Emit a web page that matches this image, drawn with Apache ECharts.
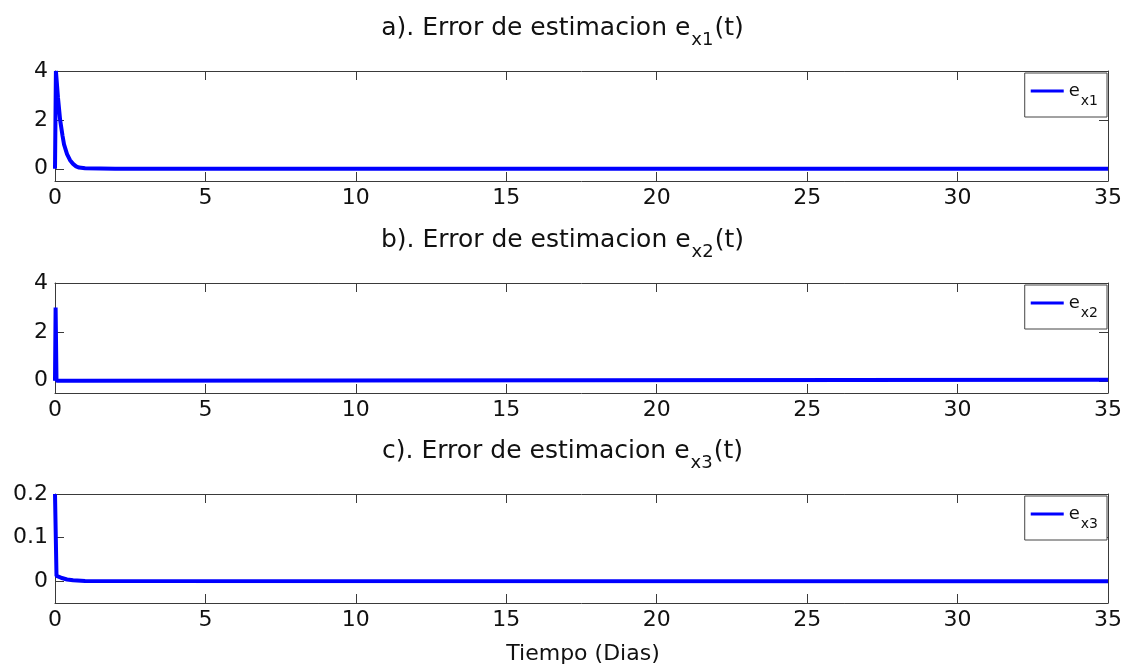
<!DOCTYPE html>
<html lang="es">
<head>
    <meta charset="UTF-8">
    <title>Error de estimacion</title>
</head>
<body style="margin:0;background:#fff;">
<div id="main" style="width:1125px;height:669px;"></div>

<script src="https://cdn.jsdelivr.net/npm/echarts@6/dist/echarts.min.js"></script>
<script>
    // datos
    var t1  = [0, 0.03, 0.1, 0.17, 0.25, 0.3, 0.4, 0.5, 0.6, 0.7, 0.8, 1.0, 2.0, 35];
    var ex1 = [0, 4.0, 2.9, 2.0, 1.35, 1.0, 0.6, 0.35, 0.2, 0.1, 0.05, 0.02, 0, 0];

    var t2  = [0, 0.02, 0.05, 0.9, 0.92, 35];
    var ex2 = [0, 3.0, 0, 0, 0.04, 0.04];

    var t3  = [0, 0.03, 0.05, 0.2, 0.4, 0.6, 1.0, 35];
    var ex3 = [0.2, 0.2, 0.012, 0.008, 0.004, 0.002, 0.0005, 0];

    var xTicks = [0, 5, 10, 15, 20, 25, 30, 35];
    var yTicks12 = [0, 2, 4];
    var yTicks3 = [0, 0.1, 0.2];

    var titulos = [
        ['a). Error de estimacion e', 'x1', '(t)'],
        ['b). Error de estimacion e', 'x2', '(t)'],
        ['c). Error de estimacion e', 'x3', '(t)']
    ];
    var nombres = ['e_x1', 'e_x2', 'e_x3'];
    var subs = ['x1', 'x2', 'x3'];

    function pares(xs, ys) {
        var out = [];
        for (var i = 0; i < xs.length; i++) out.push([xs[i], ys[i]]);
        return out;
    }

    var fuente = '"DejaVu Sans", "Liberation Sans", sans-serif';
    var eje = '#3a3a3a';
    var grids = [
        {left: 55, right: 15, top: 71, height: 110},
        {left: 55, right: 15, top: 283, height: 110},
        {left: 55, right: 15, top: 494, height: 109}
    ];
    var yRange = [[-0.5, 4], [-0.5, 4], [-0.05, 0.2]];
    var yTicks = [yTicks12, yTicks12, yTicks3];

    var xAxes = [], yAxes = [], titles = [], legends = [], series = [];
    var datos = [pares(t1, ex1), pares(t2, ex2), pares(t3, ex3)];

    for (var g = 0; g < 3; g++) {
        // eje inferior con etiquetas
        xAxes.push({
            type: 'value', gridIndex: g, min: 0, max: 35, interval: 5,
            position: 'bottom',
            axisLine: {onZero: false, lineStyle: {color: eje, width: 1}},
            axisTick: {inside: true, length: 9, lineStyle: {color: eje}},
            axisLabel: {color: '#111', fontSize: 22, fontFamily: fuente, margin: 6,
                customValues: xTicks},
            splitLine: {show: false}
        });
        // eje superior (solo marcas)
        xAxes.push({
            type: 'value', gridIndex: g, min: 0, max: 35, interval: 5,
            position: 'top',
            axisLine: {onZero: false, lineStyle: {color: eje, width: 1}},
            axisTick: {inside: true, length: 9, lineStyle: {color: eje}},
            axisLabel: {show: false},
            splitLine: {show: false}
        });
        yAxes.push({
            type: 'value', gridIndex: g, min: yRange[g][0], max: yRange[g][1],
            position: 'left',
            axisLine: {onZero: false, lineStyle: {color: eje, width: 1}},
            axisTick: {inside: true, length: 9, lineStyle: {color: eje}, customValues: yTicks[g]},
            axisLabel: {color: '#111', fontSize: 22, fontFamily: fuente, margin: 7,
                customValues: yTicks[g]},
            splitLine: {show: false}
        });
        yAxes.push({
            type: 'value', gridIndex: g, min: yRange[g][0], max: yRange[g][1],
            position: 'right',
            axisLine: {onZero: false, lineStyle: {color: eje, width: 1}},
            axisTick: {inside: true, length: 9, lineStyle: {color: eje}, customValues: yTicks[g]},
            axisLabel: {show: false},
            splitLine: {show: false}
        });

        titles.push({
            text: '{a|' + titulos[g][0] + '}{s|' + titulos[g][1] + '}{a|' + titulos[g][2] + '}',
            left: 'center',
            top: grids[g].top - 55,
            padding: 0,
            textStyle: {
                fontFamily: fuente, fontWeight: 'normal',
                rich: {
                    a: {fontSize: 25, color: '#111', fontFamily: fuente, lineHeight: 30, verticalAlign: 'top'},
                    s: {fontSize: 18, color: '#111', fontFamily: fuente, lineHeight: 18, verticalAlign: 'top',
                        padding: [15, 1, 0, 1]}
                }
            }
        });

        legends.push({
            data: [nombres[g]],
            right: 18, top: grids[g].top + 2,
            orient: 'vertical',
            backgroundColor: '#fff',
            borderColor: '#444', borderWidth: 1, borderRadius: 0,
            padding: [9, 9, 9, 6],
            icon: 'rect', itemWidth: 33, itemHeight: 3, itemGap: 4,
            selectedMode: false,
            formatter: (function (s) {
                return function () { return '{e|e}{s|' + s + '}'; };
            })(subs[g]),
            textStyle: {
                fontFamily: fuente,
                rich: {
                    e: {fontSize: 18, color: '#111', fontFamily: fuente, lineHeight: 18, verticalAlign: 'top'},
                    s: {fontSize: 14, color: '#111', fontFamily: fuente, lineHeight: 14, verticalAlign: 'top',
                        padding: [12, 0, 0, 1]}
                }
            }
        });

        series.push({
            name: nombres[g],
            type: 'line',
            xAxisIndex: g * 2, yAxisIndex: g * 2,
            data: datos[g],
            symbol: 'none',
            animation: false,
            lineStyle: {color: '#0000ff', width: 4},
            itemStyle: {color: '#0000ff'}
        });
    }

    titles.push({
        text: 'Tiempo (Dias)',
        left: 583, textAlign: 'center', top: 643, padding: 0,
        textStyle: {fontFamily: fuente, fontWeight: 'normal', fontSize: 22, color: '#111'}
    });

    var myChart = echarts.init(document.getElementById('main'));
    myChart.setOption({
        backgroundColor: '#fff',
        animation: false,
        title: titles,
        legend: legends,
        grid: grids,
        xAxis: xAxes,
        yAxis: yAxes,
        series: series
    });
</script>
</body>
</html>
